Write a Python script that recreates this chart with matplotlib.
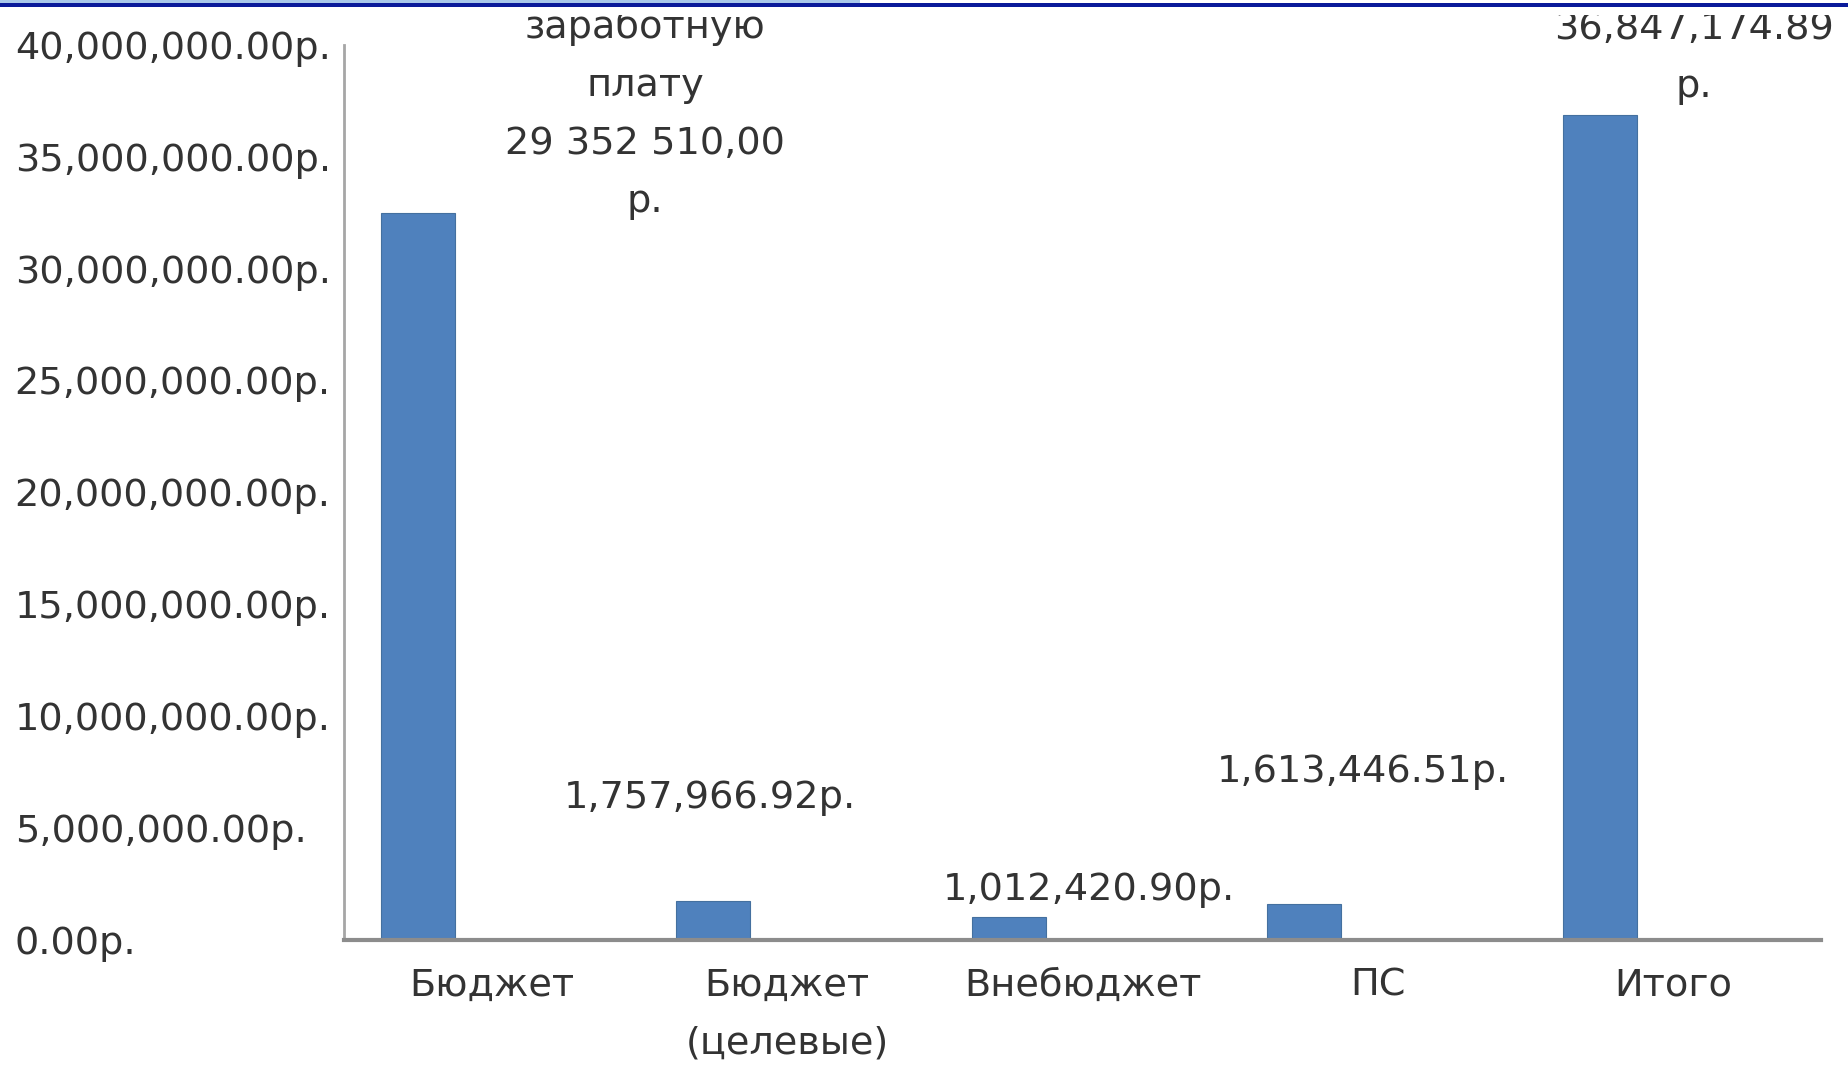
import matplotlib
matplotlib.use("Agg")
import matplotlib.pyplot as plt
from matplotlib.patches import Rectangle

# categories and values (rubles)
categories = ["Бюджет", "Бюджет\n(целевые)", "Внебюджет", "ПС", "Итого"]
values = [32463340.56, 1757966.92, 1012420.90, 1613446.51, 36847174.89]
y_ticks = [0, 5e6, 10e6, 15e6, 20e6, 25e6, 30e6, 35e6, 40e6]

# data labels as placed in the original (text, x, y in data units)
label_texts = [
    "заработную\nплату\n29 352 510,00\nр.",
    "1,757,966.92р.",
    "1,012,420.90р.",
    "1,613,446.51р.",
    "36,847,174.89\nр.",
]
label_pos = [(0.52, 36.9e6), (0.74, 6.35e6), (2.02, 2.23e6), (2.95, 7.5e6), (4.07, 39.4e6)]

TEXT = "#333333"
BAR = "#4f81bd"
FS = 27.5
LS = 1.79

fig = plt.figure(figsize=(18.49, 10.68), dpi=100)
ax = fig.add_axes([0.186, 0.120, 0.799, 0.838])

xs = [i - 0.25 for i in range(len(categories))]
ax.bar(xs, values, width=0.25, color=BAR, edgecolor="#44709f", linewidth=0.8, zorder=2)

for t, (lx, ly) in zip(label_texts, label_pos):
    ax.text(lx, ly, t, ha="center", va="center", fontsize=FS, color=TEXT,
            linespacing=LS, multialignment="center", clip_on=False)

ax.set_xlim(-0.5, 4.5)
ax.set_ylim(0, 40e6)
ax.set_xticks(range(len(categories)))
ax.set_xticklabels(categories, fontsize=FS, color=TEXT, linespacing=LS, va="top")
ax.set_yticks(y_ticks)
ax.set_yticklabels([f"{v:,.2f}р." for v in y_ticks], fontsize=FS, color=TEXT)
for lab in ax.get_yticklabels():
    lab.set_horizontalalignment("left")
ax.tick_params(axis="y", length=0, pad=237)
ax.tick_params(axis="x", length=0, pad=20)

for s in ("top", "right"):
    ax.spines[s].set_visible(False)
ax.spines["left"].set_color("#a6a6a6")
ax.spines["left"].set_linewidth(2)
ax.spines["bottom"].set_color("#8c8c8c")
ax.spines["bottom"].set_linewidth(3)

# slide border strip at the top (chart text is cut off just below it)
fig.add_artist(Rectangle((0, 1 - 15 / 1068), 1, 15 / 1068, transform=fig.transFigure,
                         color="white", lw=0))
fig.add_artist(Rectangle((0, 1 - 3 / 1068), 860 / 1849, 3 / 1068, transform=fig.transFigure,
                         color="#a9c8ea", lw=0))
fig.add_artist(Rectangle((0, 1 - 7 / 1068), 1, 4 / 1068, transform=fig.transFigure,
                         color="#0a1a9a", lw=0))

fig.savefig("out.png", dpi=100)
